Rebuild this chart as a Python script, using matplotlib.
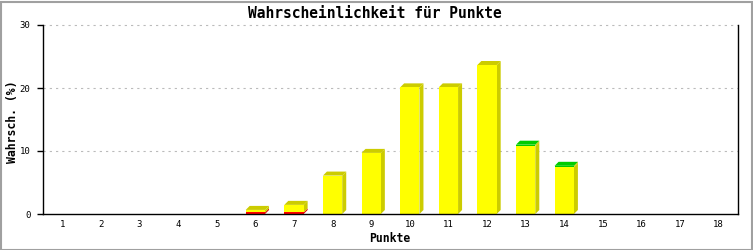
import matplotlib
matplotlib.use("Agg")
import matplotlib.pyplot as plt
from matplotlib.patches import Polygon, Rectangle

# ---- data ----
points = list(range(1, 19))
tick_labels = [str(p) for p in points]
red_vals = [0, 0, 0, 0, 0, 0.25, 0.25, 0, 0, 0, 0, 0, 0, 0, 0, 0, 0, 0]
yellow_vals = [0, 0, 0, 0, 0, 0.4, 1.2, 6.1, 9.7, 20.1, 20.1, 23.65, 10.75, 7.4, 0, 0, 0, 0]
green_vals = [0, 0, 0, 0, 0, 0, 0, 0, 0, 0, 0, 0, 0.25, 0.25, 0, 0, 0, 0]
y_ticks = [0, 10, 20, 30]

title = "Wahrscheinlichkeit für Punkte"
xlabel = "Punkte"
ylabel = "Wahrsch. (%)"

# ---- style ----
plt.rcParams['lines.scale_dashes'] = False
mono = ['DejaVu Sans Mono']
W, H = 753, 250
fig = plt.figure(figsize=(W / 100, H / 100), dpi=100)
fig.patch.set_facecolor('white')

ax_l, ax_r, ax_t, ax_b = 43, 738, 25, 214
ax = fig.add_axes([ax_l / W, (H - ax_b) / H, (ax_r - ax_l) / W, (ax_b - ax_t) / H])
ax.set_xlim(0.5, 18.5)
ax.set_ylim(0, 30)

# pixel-based 3D offsets converted to data units
px_x = 18.0 / (ax_r - ax_l)
px_y = 30.0 / (ax_b - ax_t)
dx = 4 * px_x
dy = 4 * px_y
bw = 0.5

segments = [
    (red_vals, '#ff0000', '#dd0000', '#ff0000'),
    (yellow_vals, '#ffff00', '#cccc00', '#cccc00'),
    (green_vals, '#00cc00', '#cccc00', '#00cc00'),
]

for i, x in enumerate(points):
    base = 0.0
    top_color = None
    for vals, front, side, topc in segments:
        v = vals[i]
        if v <= 0:
            continue
        y0, y1 = base, base + v
        xl, xr = x - bw / 2, x + bw / 2
        ax.add_patch(Polygon([(xr, y0), (xr + dx, y0 + dy), (xr + dx, y1 + dy), (xr, y1)],
                             closed=True, facecolor=side, edgecolor='none', zorder=3))
        ax.add_patch(Rectangle((xl, y0), bw, v, facecolor=front, edgecolor='none', zorder=4))
        base = y1
        top_color = topc
    if top_color is not None:
        xl, xr = x - bw / 2, x + bw / 2
        ax.add_patch(Polygon([(xl, base), (xl + dx, base + dy), (xr + dx, base + dy), (xr, base)],
                             closed=True, facecolor=top_color, edgecolor='none', zorder=3))

# grid
for yv in y_ticks[1:]:
    ax.axhline(yv, color='#bbbbbb', linewidth=0.8, linestyle=(0, (1.6, 2.9)), zorder=1, clip_on=False)

for s in ['left', 'bottom', 'right']:
    ax.spines[s].set_color('black')
    ax.spines[s].set_linewidth(1.0)
    ax.spines[s].set_zorder(5)
ax.spines['top'].set_visible(False)

ax.set_xticks(points)
ax.set_xticklabels(tick_labels, fontfamily=mono, fontsize=6.5)
ax.tick_params(axis='x', length=0, pad=4)
ax.set_yticks(y_ticks)
ax.set_yticklabels([str(v) for v in y_ticks], fontfamily=mono, fontsize=6.5)
ax.tick_params(axis='y', length=4, width=1.0, pad=5, direction='out')

fig.text(375 / W, 1 - 13 / H, title, ha='center', va='center', fontfamily=mono,
         fontweight='bold', fontsize=10.5)
fig.text(390 / W, 1 - 239 / H, xlabel, ha='center', va='center', fontfamily=mono,
         fontweight='bold', fontsize=8.3)
fig.text(13 / W, 1 - 122 / H, ylabel, ha='center', va='center', rotation=90,
         fontfamily=mono, fontweight='bold', fontsize=8.3)

# outer border
fig.add_artist(Rectangle((0.5 / W, 0.5 / H), (W - 2) / W, (H - 2) / H, transform=fig.transFigure,
                         fill=False, edgecolor='#a0a0a0', linewidth=1.5))

fig.savefig('out.png', dpi=100)
